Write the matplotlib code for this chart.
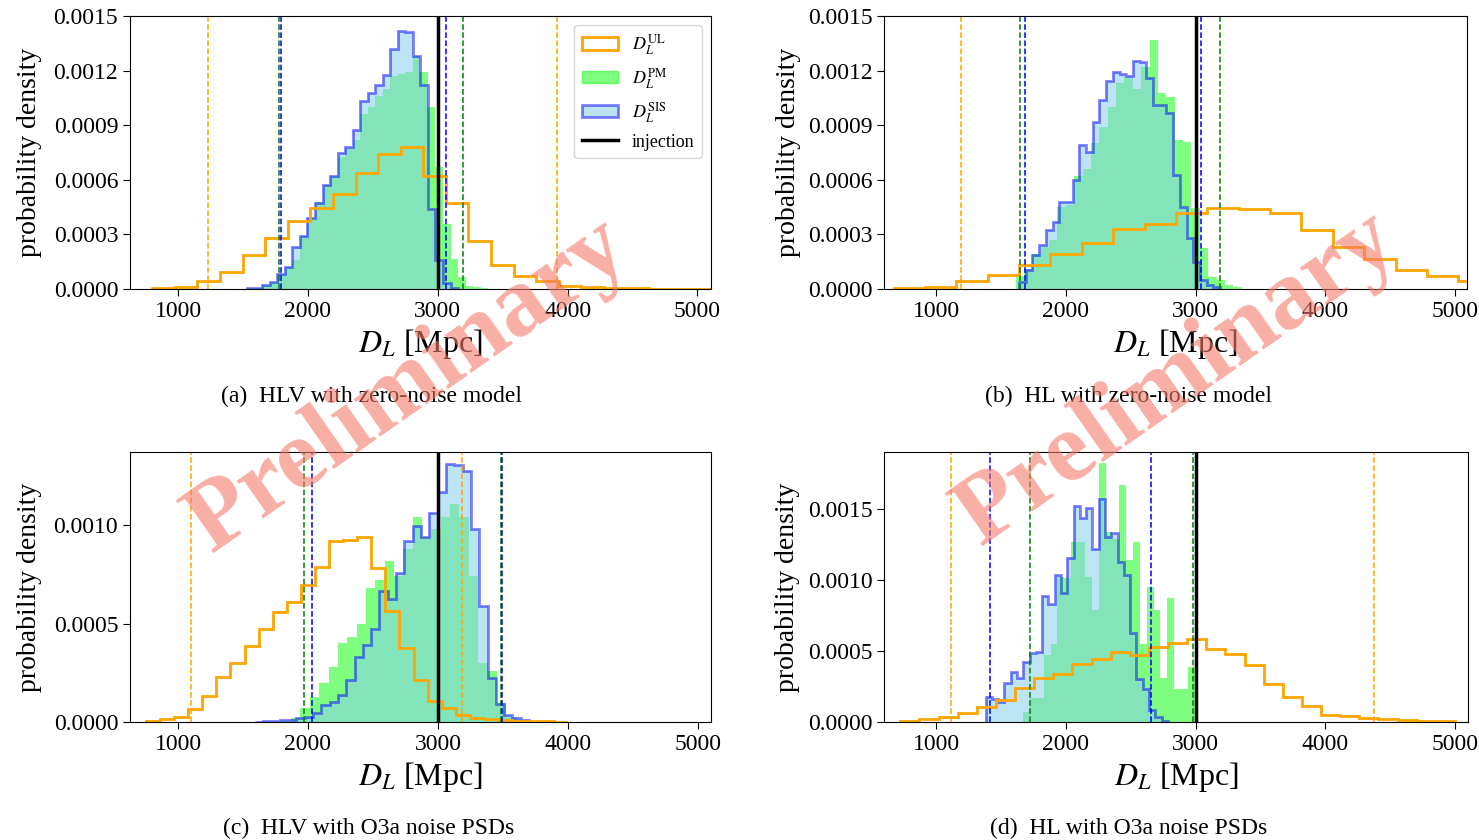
import numpy as np
import matplotlib
matplotlib.use("Agg")
import matplotlib.pyplot as plt
from matplotlib.patches import Patch
from matplotlib.lines import Line2D
from matplotlib.ticker import FormatStrFormatter, MultipleLocator

plt.rcParams["font.family"] = ["Liberation Serif", "DejaVu Serif"]
plt.rcParams["mathtext.fontset"] = "stix"

INJECTION = 3000.0

# (a) HLV, zero-noise model
ul_a_edges = np.linspace(800, 5150, 26)
ul_a = [0.000005, 0.000013, 0.000042, 0.000092, 0.000189, 0.000279, 0.000371,
        0.000444, 0.000523, 0.000639, 0.000744, 0.000781, 0.00062, 0.000474,
        0.000266, 0.000134, 0.000073, 0.000042, 0.000017, 0.000009, 0.000005,
        0.000003, 0.000002, 0.000001, 0.000001]
pm_a_edges = np.linspace(1532, 3388, 33)
pm_a = [0.000003, 0.000008, 0.00002, 0.00004, 0.00008, 0.00012, 0.00016,
        0.00029, 0.00039, 0.00048, 0.00057, 0.00062, 0.000727, 0.00077,
        0.00082, 0.00096, 0.001, 0.00106, 0.0011, 0.00117, 0.00118, 0.00119,
        0.00128, 0.00119, 0.001, 0.00067, 0.000358, 0.000165, 0.000064,
        0.000018, 0.00001, 0.000005]
sis_a_edges = np.linspace(1532, 3156, 29)
sis_a = [0.000004, 0.000008, 0.00002, 0.00004, 0.00008, 0.00012, 0.00023,
         0.00029, 0.00039, 0.00047, 0.00057, 0.00062, 0.000745, 0.00078,
         0.000874, 0.00103, 0.001075, 0.00112, 0.001176, 0.00132, 0.00142,
         0.00141, 0.00128, 0.00112, 0.00044, 0.00016, 0.00003, 0.000005]
bounds_a = {"UL": [1230, 3920], "PM": [1780, 3197], "SIS": [1789, 3064]}

# (b) HL, zero-noise model
ul_b_edges = np.linspace(671, 5269, 20)
ul_b = [0.000006, 0.000013, 0.000042, 0.000079, 0.000132, 0.000193, 0.000253,
        0.000327, 0.000358, 0.000419, 0.000446, 0.000441, 0.000417, 0.000325,
        0.000233, 0.000165, 0.000105, 0.000073, 0.000046]
pm_b_edges = np.linspace(1612, 3356.2, 28)
pm_b = [0.00007, 0.00011, 0.00019, 0.00023, 0.00027, 0.00045, 0.00046,
        0.00062, 0.00066, 0.0008, 0.00089, 0.001, 0.00113, 0.00116, 0.0011,
        0.00122, 0.00137, 0.001075, 0.001057, 0.000819, 0.000806, 0.000443,
        0.000227, 0.000068, 0.00005, 0.00002, 0.00001]
sis_b_edges = np.linspace(1638, 3189, 31)
sis_b = [0.00004, 0.000104, 0.000187, 0.000242, 0.000324, 0.00037, 0.00048,
         0.00048, 0.0006, 0.00079, 0.00075, 0.00092, 0.00104, 0.00114,
         0.00119, 0.00118, 0.00117, 0.00125, 0.001245, 0.00116, 0.00101,
         0.00101, 0.000965, 0.000626, 0.000452, 0.000278, 0.00015, 0.00005,
         0.00002, 0.00001]
bounds_b = {"UL": [1190], "PM": [1649, 3186], "SIS": [1686, 3040]}

# (c) HLV, O3a noise PSDs
ul_c_edges = np.linspace(753, 4005, 31)
ul_c = [0.000005, 0.000013, 0.000027, 0.000067, 0.000131, 0.000229, 0.0003,
        0.000384, 0.000472, 0.000561, 0.000608, 0.000695, 0.000788, 0.000919,
        0.000923, 0.00094, 0.00078, 0.000564, 0.000374, 0.000212, 0.000106,
        0.000072, 0.000037, 0.000022, 0.000013, 0.000008, 0.000005, 0.000004,
        0.000003, 0.000002]
pm_c_edges = np.linspace(1798, 3670, 27)
pm_c = [0.000007, 0.000019, 0.000069, 0.000128, 0.000196, 0.00028, 0.000402,
        0.000432, 0.000496, 0.000682, 0.000722, 0.000817, 0.00074, 0.00088,
        0.00104, 0.000942, 0.00098, 0.00104, 0.001107, 0.00104, 0.000744,
        0.0003, 0.00026, 0.000095, 0.000027, 0.00001]
sis_c_edges = np.linspace(1590, 3702, 34)
sis_c = [0.000002, 0.000003, 0.000005, 0.000008, 0.000012, 0.000019, 0.000027,
         0.000044, 0.000086, 0.000103, 0.000137, 0.000213, 0.000331, 0.00039,
         0.000474, 0.000668, 0.000626, 0.000756, 0.000918, 0.000997, 0.000942,
         0.00106, 0.001171, 0.001313, 0.001306, 0.001276, 0.000981, 0.000587,
         0.000221, 0.000091, 0.000035, 0.000019, 0.00001]
bounds_c = {"UL": [1101, 3186], "PM": [1967, 3486], "SIS": [2033, 3496]}

# (d) HL, O3a noise PSDs
ul_d_edges = np.linspace(722, 5000, 30)
ul_d = [0.000005, 0.000019, 0.000037, 0.000066, 0.000105, 0.000152, 0.000241,
        0.000311, 0.000335, 0.000405, 0.000445, 0.000492, 0.000468, 0.000529,
        0.000553, 0.000581, 0.000515, 0.00048, 0.000403, 0.000265, 0.000176,
        0.000112, 0.000052, 0.000042, 0.00003, 0.000019, 0.000012, 0.000007,
        0.000005]
pm_d_edges = np.linspace(1669, 2994, 26)
pm_d = [0.00007, 0.00017, 0.00017, 0.00047, 0.00055, 0.00102, 0.00101,
        0.00127, 0.00127, 0.00102, 0.00079, 0.00182, 0.00134, 0.00129,
        0.00167, 0.00114, 0.00127, 0.00055, 0.00095, 0.00079, 0.00031,
        0.00087, 0.00023, 0.00023, 0.00039]
sis_d_edges = np.linspace(1380, 2786.5, 30)
sis_d = [0.000178, 0.00016, 0.000143, 0.000272, 0.000354, 0.000307, 0.000425,
         0.000483, 0.000495, 0.000887, 0.000831, 0.001035, 0.000911, 0.001152,
         0.001521, 0.001434, 0.001504, 0.001216, 0.001568, 0.0013, 0.001333,
         0.001129, 0.001035, 0.000629, 0.0003, 0.00023, 0.000084, 0.000038,
         0.000009]
bounds_d = {"UL": [1110, 4377], "PM": [1725, 2983], "SIS": [1412, 2652]}

captions = ["(a)  HLV with zero-noise model", "(b)  HL with zero-noise model",
            "(c)  HLV with O3a noise PSDs", "(d)  HL with O3a noise PSDs"]

UL_COLOR = "orange"
PM_FACE = (0.0, 1.0, 0.0, 0.5)
SIS_FACE = (0.53, 0.81, 0.92, 0.55)  # skyblue
SIS_EDGE = (0.0, 0.0, 1.0, 0.5)
LINE_COLORS = {"UL": "orange", "PM": "green", "SIS": "blue"}


def draw_panel(ax, ul, pm, sis, bounds, xlim, ylim, ystep):
    ax.stairs(pm[1], pm[0], fill=True, color=PM_FACE, lw=0)
    ax.stairs(sis[1], sis[0], fill=True, color=SIS_FACE, lw=0)
    ax.stairs(sis[1], sis[0], color=SIS_EDGE, lw=2)
    ax.stairs(ul[1], ul[0], color=UL_COLOR, lw=2)
    for key in ["UL", "PM", "SIS"]:
        for b in bounds[key]:
            ax.axvline(b, color=LINE_COLORS[key], ls="--", lw=1.1)
    ax.axvline(INJECTION, color="black", lw=2.5)

    ax.set_xlim(*xlim)
    ax.set_ylim(*ylim)
    ax.xaxis.set_major_locator(MultipleLocator(1000))
    ax.yaxis.set_major_locator(MultipleLocator(ystep))
    ax.yaxis.set_major_formatter(FormatStrFormatter("%.4f"))
    ax.tick_params(labelsize=17, length=5)
    ax.set_xlabel(r"$D_L$ [Mpc]", fontsize=23)
    ax.set_ylabel("probability density", fontsize=20)


fig = plt.figure(figsize=(14.79, 8.40), dpi=100)
ax_a = fig.add_axes([0.0879, 0.6560, 0.3928, 0.3250])
ax_b = fig.add_axes([0.5980, 0.6560, 0.3938, 0.3250])
ax_c = fig.add_axes([0.0879, 0.1405, 0.3931, 0.3214])
ax_d = fig.add_axes([0.5980, 0.1405, 0.3945, 0.3214])

draw_panel(ax_a, (ul_a_edges, ul_a), (pm_a_edges, pm_a), (sis_a_edges, sis_a),
           bounds_a, (629, 5104), (0, 0.0015), 0.0003)
draw_panel(ax_b, (ul_b_edges, ul_b), (pm_b_edges, pm_b), (sis_b_edges, sis_b),
           bounds_b, (600, 5093), (0, 0.0015), 0.0003)
draw_panel(ax_c, (ul_c_edges, ul_c), (pm_c_edges, pm_c), (sis_c_edges, sis_c),
           bounds_c, (630, 5105), (0, 0.001372), 0.0005)
draw_panel(ax_d, (ul_d_edges, ul_d), (pm_d_edges, pm_d), (sis_d_edges, sis_d),
           bounds_d, (600, 5100), (0, 0.0019), 0.0005)

for ax in [ax_a, ax_c]:
    ax.yaxis.set_label_coords(-0.151, 0.5)
for ax in [ax_b, ax_d]:
    ax.yaxis.set_label_coords(-0.144, 0.5)

handles = [
    Patch(facecolor="white", edgecolor=UL_COLOR, lw=2),
    Patch(facecolor=PM_FACE, edgecolor=PM_FACE, lw=1),
    Patch(facecolor=SIS_FACE, edgecolor=SIS_EDGE, lw=2),
    Line2D([], [], color="black", lw=2.5),
]
labels = [r"$D_L^{\mathrm{UL}}$", r"$D_L^{\mathrm{PM}}$",
          r"$D_L^{\mathrm{SIS}}$", "injection"]
ax_a.legend(handles, labels, loc="upper right", fontsize=13)

cap_pos = [(0.251, 0.528), (0.763, 0.528), (0.2495, 0.0143), (0.763, 0.0143)]
for (x, y), text in zip(cap_pos, captions):
    fig.text(x, y, text, fontsize=17, ha="center", va="center")

# watermark over both columns
for x, y in [(0.276, 0.540), (0.796, 0.548)]:
    fig.text(x, y, "Preliminary", fontsize=72, fontweight="bold",
             rotation=35, rotation_mode="anchor", ha="center", va="center",
             color="#f47a6a", alpha=0.6, zorder=10)

fig.savefig("out.png", dpi=100)
